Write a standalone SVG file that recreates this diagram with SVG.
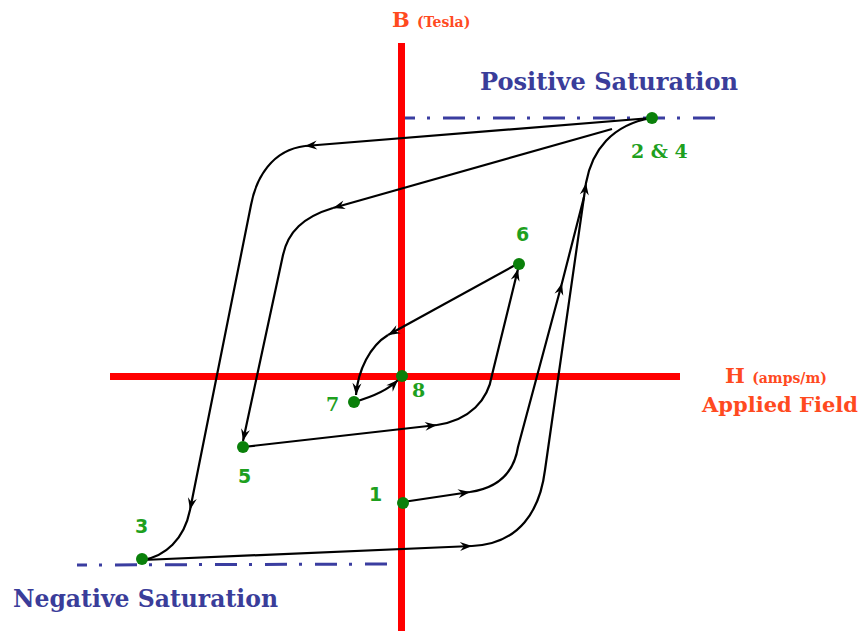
<svg xmlns="http://www.w3.org/2000/svg" width="861" height="631" viewBox="0 0 861 631">
<defs>
<style>
.axis{stroke:#ff0000;stroke-width:7;fill:none}
.sat{stroke:#3a3da0;stroke-width:3;fill:none;stroke-dasharray:22 12 3 13}
.c{stroke:#000;stroke-width:2.2;fill:none;stroke-linecap:round}
.ca{stroke:#000;stroke-width:2.2;fill:none;marker-end:url(#ah)}
.dot{fill:#0a800a}
.ax{font-family:"DejaVu Serif","Liberation Serif",serif;font-weight:bold;fill:#ff4a1f}
.blue{font-family:"DejaVu Serif","Liberation Serif",serif;font-weight:bold;fill:#3a3d9a;font-size:24px}
.gs{font-family:"DejaVu Sans","Liberation Sans",sans-serif;font-weight:bold;fill:#1ea01e;font-size:19px}
.gr{font-family:"DejaVu Serif","Liberation Serif",serif;font-weight:bold;fill:#1ea01e;font-size:19px}
</style>
<marker id="ah" viewBox="-13 -6 14 12" refX="0" refY="0" markerWidth="14" markerHeight="12" markerUnits="userSpaceOnUse" orient="auto">
<path d="M0,0 L-12,-4.5 L-8,0 L-12,4.5 Z" fill="#000"/>
</marker>
</defs>
<rect width="861" height="631" fill="#fff"/>
<g id="axes">
<line class="axis" x1="401.5" y1="43" x2="401.5" y2="631"/>
<line class="axis" x1="110" y1="376.5" x2="680" y2="376.5"/>
</g>
<g id="saturation-lines">
<line class="sat" x1="405" y1="118" x2="718" y2="118" stroke-dashoffset="12"/>
<line class="sat" x1="77" y1="565" x2="396" y2="564" stroke-dashoffset="12"/>
</g>
<g id="connectors">
<path class="ca" d="M651,118 L305,146"/>
<path class="ca" d="M305,146 C272,150 256,178 251,205 L190,510"/>
<path class="c" d="M190,510 C184,540 165,556 143,560"/>
<path class="ca" d="M143,560 L472,546"/>
<path class="ca" d="M472,546 C520,544 540,510 545,470 L586,183"/>
<path class="c" d="M586,183 C592,150 612,125 651,118"/>
<path class="ca" d="M403,502 L470,492"/>
<path class="ca" d="M470,492 C505,487 515,466 518,447 L562,283"/>
<path class="c" d="M562,283 L584,197"/>
<path class="ca" d="M612,129 L333,208"/>
<path class="ca" d="M333,208 C303,217 288,232 283,255 L243,441"/>
<path class="ca" d="M243,447 L437,425"/>
<path class="ca" d="M437,425 C470,420 488,400 492,375 L518,269"/>
<path class="ca" d="M519,263 L388,335"/>
<path class="ca" d="M388,335 C370,346 358,370 356,395"/>
<path class="ca" d="M354,402 C372,397 388,390 398,380"/>
</g>
<g id="p24"><circle class="dot" cx="652" cy="118" r="6"/><text class="gr" x="631" y="158">2 &amp; 4</text></g>
<g id="p6"><circle class="dot" cx="519" cy="264" r="6"/><text class="gs" x="516" y="241">6</text></g>
<g id="p8"><circle class="dot" cx="402" cy="376" r="6"/><text class="gr" x="412" y="397">8</text></g>
<g id="p7"><circle class="dot" cx="354" cy="402" r="6"/><text class="gr" x="326" y="411">7</text></g>
<g id="p5"><circle class="dot" cx="243" cy="447" r="6"/><text class="gs" x="238" y="483">5</text></g>
<g id="p1"><circle class="dot" cx="403" cy="503" r="6"/><text class="gs" x="369" y="501">1</text></g>
<g id="p3"><circle class="dot" cx="142" cy="559" r="6"/><text class="gs" x="135" y="533">3</text></g>
<g id="labels">
<text class="ax" x="392" y="27" font-size="21">B <tspan font-size="14">(Tesla)</tspan></text>
<text class="ax" x="725" y="383" font-size="21">H <tspan font-size="14">(amps/m)</tspan></text>
<text class="ax" x="702" y="412" font-size="21" textLength="156" lengthAdjust="spacingAndGlyphs">Applied Field</text>
<text class="blue" x="480" y="90" textLength="258" lengthAdjust="spacingAndGlyphs">Positive Saturation</text>
<text class="blue" x="13" y="607" textLength="265" lengthAdjust="spacingAndGlyphs">Negative Saturation</text>
</g>
</svg>
